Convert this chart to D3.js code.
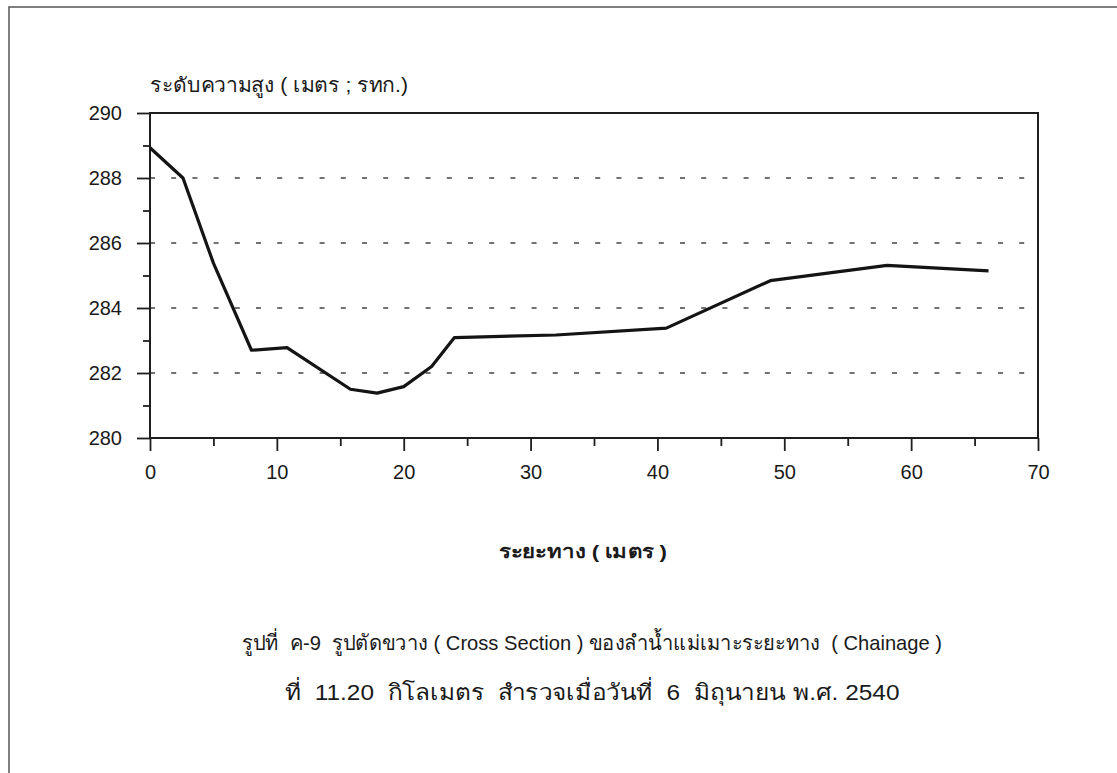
<!DOCTYPE html>
<html>
<head>
<meta charset="utf-8">
<script src="https://cdn.jsdelivr.net/npm/d3@7"></script>
<style>
  html, body { margin: 0; padding: 0; background: #fff; }
  svg { display: block; }
  .lbl { font-family: "Liberation Sans Narrow", "Arial Narrow", "Liberation Sans", Arial, sans-serif; fill: #1a1a1a; white-space: pre; }
</style>
</head>
<body>
<svg id="chart" width="1117" height="773"></svg>
<script>
// Cross-section survey: distance from bank (m) and bed elevation (m MSL)
const distance = [0, 2.6, 5.0, 8.0, 10.8, 15.8, 17.9, 20.0, 22.2, 24.0, 32.0, 40.7, 48.9, 58.1, 66.1];
const elevation = [288.93, 288.0, 285.38, 282.70, 282.78, 281.50, 281.38, 281.58, 282.20, 283.09, 283.17, 283.38, 284.84, 285.31, 285.14];

const xTicks = [0, 10, 20, 30, 40, 50, 60, 70];
const yTicks = [280, 282, 284, 286, 288, 290];
const yGrid = [282, 284, 286, 288];

const yTitle = "ระดับความสูง ( เมตร ; รทก.)";
const xTitle = "ระยะทาง ( เมตร )";
const caption1 = "รูปที่  ค-9  รูปตัดขวาง ( Cross Section ) ของลำน้ำแม่เมาะระยะทาง  ( Chainage )";
const caption2 = "ที่  11.20  กิโลเมตร  สำรวจเมื่อวันที่  6  มิถุนายน พ.ศ. 2540";

const svg = d3.select("#chart");
const plotL = 150, plotR = 1038, plotT = 113, plotB = 438;

const x = d3.scaleLinear().domain([0, 70]).range([plotL, plotR]);
const y = d3.scaleLinear().domain([280, 290]).range([plotB, plotT]);

// page frame (left and top edges of the printed page)
svg.append("path")
  .attr("d", "M9,773 L9,7 L1117,7")
  .attr("fill", "none").attr("stroke", "#555").attr("stroke-width", 1.5);

// dashed horizontal gridlines
svg.append("g").selectAll("line").data(yGrid).join("line")
  .attr("x1", plotL).attr("x2", plotR)
  .attr("y1", d => y(d)).attr("y2", d => y(d))
  .attr("stroke", "#444").attr("stroke-width", 1.3)
  .attr("stroke-dasharray", "5 16.2");

// plot frame
svg.append("rect")
  .attr("x", plotL).attr("y", plotT)
  .attr("width", plotR - plotL).attr("height", plotB - plotT)
  .attr("fill", "none").attr("stroke", "#1e1e1e").attr("stroke-width", 2);

// y axis: major ticks every 2, minor every 1
const yAxis = d3.axisLeft(y).tickValues(yTicks).tickSize(13).tickSizeOuter(0).tickPadding(15);
const gy = svg.append("g").attr("transform", `translate(${plotL},0)`).call(yAxis);
gy.select(".domain").remove();
gy.selectAll(".tick line").attr("stroke", "#1e1e1e").attr("stroke-width", 1.8);
gy.selectAll(".tick text").attr("class", "lbl").style("font-size", "20px");
const gyMinor = svg.append("g").attr("transform", `translate(${plotL},0)`)
  .call(d3.axisLeft(y).tickValues(d3.range(281, 290, 2)).tickSize(7).tickFormat(""));
gyMinor.select(".domain").remove();
gyMinor.selectAll(".tick line").attr("stroke", "#1e1e1e").attr("stroke-width", 1.8);

// x axis: major ticks every 10, minor every 5
const xAxis = d3.axisBottom(x).tickValues(xTicks).tickSize(13).tickSizeOuter(0).tickPadding(14);
const gx = svg.append("g").attr("transform", `translate(0,${plotB})`).call(xAxis);
gx.select(".domain").remove();
gx.selectAll(".tick line").attr("stroke", "#1e1e1e").attr("stroke-width", 1.8);
gx.selectAll(".tick text").attr("class", "lbl").style("font-size", "20px");
const gxMinor = svg.append("g").attr("transform", `translate(0,${plotB})`)
  .call(d3.axisBottom(x).tickValues(d3.range(5, 70, 10)).tickSize(8).tickFormat(""));
gxMinor.select(".domain").remove();
gxMinor.selectAll(".tick line").attr("stroke", "#1e1e1e").attr("stroke-width", 1.8);

// profile line
const pts = distance.map((d, i) => [d, elevation[i]]);
svg.append("path")
  .datum(pts)
  .attr("fill", "none")
  .attr("stroke", "#141414")
  .attr("stroke-width", 3.2)
  .attr("stroke-linejoin", "round")
  .attr("d", d3.line().x(d => x(d[0])).y(d => y(d[1])));

// titles
svg.append("text").attr("class", "lbl")
  .attr("x", plotL).attr("y", 92)
  .attr("textLength", 258).attr("lengthAdjust", "spacingAndGlyphs")
  .style("font-size", "20px")
  .text(yTitle);

svg.append("text").attr("class", "lbl")
  .attr("x", 583).attr("y", 558)
  .attr("text-anchor", "middle")
  .attr("textLength", 168).attr("lengthAdjust", "spacingAndGlyphs")
  .style("font-size", "19px").style("font-weight", "bold")
  .text(xTitle);

// figure caption
svg.append("text").attr("class", "lbl")
  .attr("x", 592).attr("y", 650)
  .attr("text-anchor", "middle")
  .attr("textLength", 700).attr("lengthAdjust", "spacingAndGlyphs")
  .style("font-size", "21px")
  .text(caption1);

svg.append("text").attr("class", "lbl")
  .attr("x", 592).attr("y", 700)
  .attr("text-anchor", "middle")
  .attr("textLength", 615).attr("lengthAdjust", "spacingAndGlyphs")
  .style("font-size", "22px")
  .text(caption2);
</script>
</body>
</html>
